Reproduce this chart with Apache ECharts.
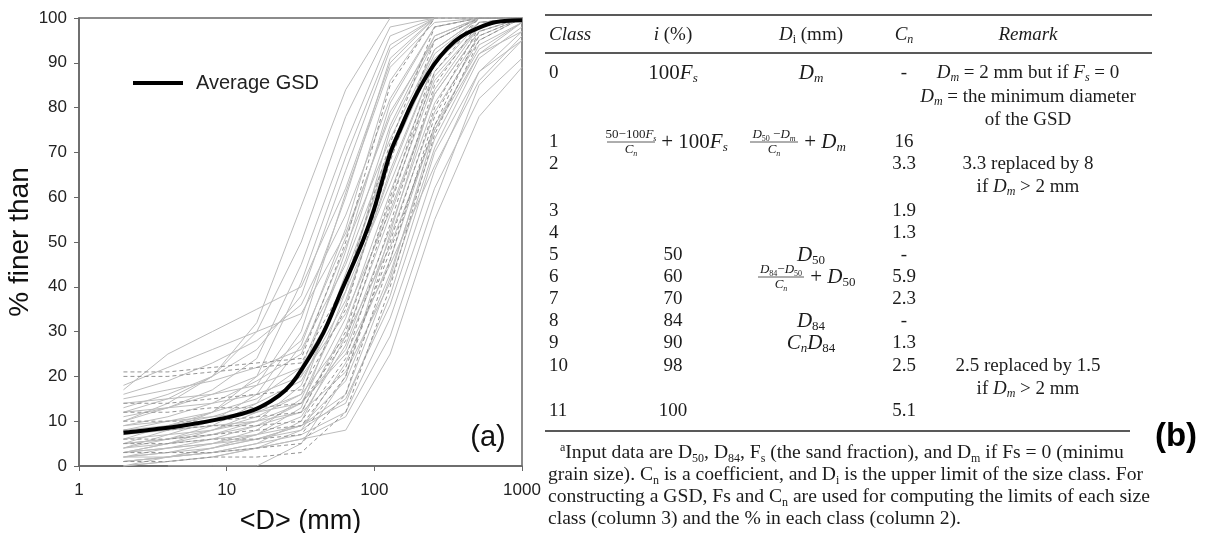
<!DOCTYPE html>
<html>
<head>
<meta charset="utf-8">
<script src="https://cdn.jsdelivr.net/npm/echarts@6/dist/echarts.min.js"></script>
<style>
  html, body { margin: 0; padding: 0; background: #fff; }
  #chart { width: 1208px; height: 533px; }
</style>
</head>
<body>
<div id="chart"></div>
<script>
// ---- panel (a): grain size distributions ----
// sieve diameters (mm) at which each GSD is tabulated
const sieveSizes = [2, 4, 8, 16, 32, 64, 128, 256, 512, 1000];

// % finer than, one row per GSD (solid grey curves)
const grayCurves = [
  [17, 25, 30, 35, 40, 62, 90, 100, 100, 100],
  [12, 15, 20, 32, 58, 84, 100, 100, 100, 100],
  [16, 19, 23, 28, 36, 56, 82, 98, 100, 100],
  [10, 13, 17, 24, 45, 72, 96, 100, 100, 100],
  [6, 9, 12, 18, 33, 60, 91, 100, 100, 100],
  [4, 6, 9, 14, 27, 53, 86, 100, 100, 100],
  [8, 10, 12, 15, 22, 46, 76, 96, 100, 100],
  [3, 5, 7, 10, 18, 41, 71, 93, 100, 100],
  [2, 3, 5, 8, 15, 36, 66, 90, 99, 100],
  [14, 15, 16, 18, 22, 39, 63, 88, 99, 100],
  [5, 6, 7, 9, 12, 31, 59, 86, 98, 100],
  [1, 2, 3, 5, 10, 29, 56, 83, 97, 100],
  [9, 10, 11, 12, 14, 26, 51, 79, 95, 100],
  [0, 1, 2, 4, 8, 23, 46, 76, 93, 99],
  [7, 8, 9, 10, 12, 21, 41, 71, 91, 98],
  [3, 4, 5, 6, 8, 15, 36, 66, 88, 97],
  [2, 2, 3, 4, 6, 11, 29, 59, 85, 95],
  [0, 1, 2, 4, 6, 8, 25, 55, 78, 89],
  [1, 2, 3, 5, 7, 12, 33, 62, 82, 91],
  [11, 13, 16, 20, 28, 51, 79, 95, 100, 100],
  [13, 16, 20, 26, 38, 66, 93, 100, 100, 100],
  [5, 8, 12, 20, 41, 69, 94, 100, 100, 100],
  [4, 7, 10, 16, 30, 61, 89, 99, 100, 100],
  [9, 11, 14, 19, 25, 49, 73, 93, 100, 100],
  [6, 7, 8, 11, 16, 43, 69, 91, 99, 100],
  [2, 4, 6, 9, 14, 33, 61, 87, 98, 100],
  [3, 4, 5, 7, 11, 27, 53, 81, 96, 100],
  [12, 13, 14, 16, 20, 34, 57, 83, 97, 100],
  [8, 9, 10, 12, 16, 29, 49, 75, 94, 99],
  [1, 2, 4, 6, 9, 19, 43, 73, 92, 99],
  [0, 2, 4, 7, 13, 39, 75, 95, 100, 100],
  [5, 6, 8, 10, 14, 25, 45, 67, 86, 96],
  [10, 14, 20, 30, 50, 78, 98, 100, 100, 100],
  [7, 9, 11, 14, 19, 37, 65, 90, 99, 100],
  [3, 5, 8, 12, 20, 48, 81, 98, 100, 100],
  [15, 17, 19, 22, 26, 45, 71, 92, 100, 100],
  [2, 3, 4, 6, 9, 14, 38, 70, 88, 95],
  [4, 5, 6, 7, 9, 16, 42, 75, 92, 97],
  [null, 0, 0, 0, 5, 20, 52, 84, 98, 100],
  [18, 22, 26, 30, 34, 52, 78, 96, 100, 100]
];

// % finer than for the GSDs drawn with dashed grey lines
const dashedCurves = [
  [21, 21, 22, 23, 24, 50, 85, 100, 100, 100],
  [20, 20, 21, 22, 23, 41, 72, 98, 100, 100],
  [14, 14, 15, 16, 17, 35, 68, 95, 100, 100],
  [10, 10, 10, 11, 12, 30, 60, 90, 100, 100],
  [8, 8, 9, 9, 10, 24, 54, 85, 99, 100],
  [5, 5, 6, 6, 7, 20, 50, 80, 98, 100],
  [3, 3, 3, 4, 5, 16, 46, 78, 96, 100],
  [1, 1, 2, 2, 3, 12, 40, 74, 95, 100],
  [12, 12, 13, 13, 14, 28, 58, 88, 100, 100],
  [6, 6, 7, 8, 9, 22, 48, 76, 97, 100]
];

// average GSD
const avgSizes   = [2, 5, 10, 15, 20, 25, 30, 45, 60, 84, 100, 128, 150, 184, 230, 279, 350, 423, 641, 1000];
const avgPercent = [7.4, 9, 10.8, 12.4, 14.5, 16.9, 20, 29.6, 39.2, 50.4, 57.5, 69.8, 75.2, 81.7, 87.5, 91.4, 94.8, 96.6, 99, 99.5];

const xTickValues = [1, 10, 100, 1000];

// ---- panel (b): size-class table ----
const classIds    = ['0', '1', '2', '3', '4', '5', '6', '7', '8', '9', '10', '11'];
const classPct    = ['{r|100}{i|F}{si|s}', '', '', '', '', '50', '60', '70', '84', '90', '98', '100'];
const classDi     = ['{i|D}{si|m}', '', '', '', '', '{i|D}{s|50}', '', '', '{i|D}{s|84}', '{i|C}{si|n}{i|D}{s|84}', '', ''];
const classCn     = ['-', '16', '3.3', '1.9', '1.3', '-', '5.9', '2.3', '-', '1.3', '2.5', '5.1'];
const classRowY   = [73, 142, 164, 211, 233, 255, 277, 299, 321, 343, 366, 411];

const remarkLines = [
  ['{i|D}{si|m}{r| = 2 mm but if }{i|F}{si|s}{r| = 0}', 73],
  ['{i|D}{si|m}{r| = the minimum diameter}', 97],
  ['{r|of the GSD}', 120],
  ['{r|3.3 replaced by 8}', 164],
  ['{r|if }{i|D}{si|m}{r| > 2 mm}', 187],
  ['{r|2.5 replaced by 1.5}', 366],
  ['{r|if }{i|D}{si|m}{r| > 2 mm}', 389]
];

const footnoteLines = [
  '{sup|a}{r|Input data are D}{s|50}{r|, D}{s|84}{r|, F}{s|s}{r| (the sand fraction), and D}{s|m}{r| if Fs = 0 (minimu}',
  '{r|grain size). C}{s|n}{r| is a coefficient, and D}{s|i}{r| is the upper limit of the size class. For}',
  '{r|constructing a GSD, Fs and C}{s|n}{r| are used for computing the limits of each size}',
  '{r|class (column 3) and the % in each class (column 2).}'
];

// ---------------------------------------------------------------
const SANS = '"Liberation Sans", Arial, sans-serif';
const SERIF = '"Liberation Serif", "Times New Roman", serif';
const INK = '#1c1c1c';

function richSet(base) {
  const sub = Math.round(base * 0.63);
  const lh = Math.round(base * 1.16);
  return {
    r:   { fontFamily: SERIF, fontSize: base, lineHeight: lh, fill: INK },
    i:   { fontFamily: SERIF, fontSize: base, fontStyle: 'italic', lineHeight: lh, fill: INK },
    s:   { fontFamily: SERIF, fontSize: sub, lineHeight: sub, verticalAlign: 'bottom', fill: INK },
    si:  { fontFamily: SERIF, fontSize: sub, fontStyle: 'italic', lineHeight: sub, verticalAlign: 'bottom', fill: INK },
    sup: { fontFamily: SERIF, fontSize: sub, lineHeight: sub, verticalAlign: 'top', fill: INK }
  };
}
const RICH = richSet(19);
const RICH_MATH = richSet(21);
const RICH_SMALL = richSet(13);
const RICH_NOTE = richSet(19.6);

function txt(x, y, text, align, rich) {
  return {
    type: 'text', x: x, y: y, silent: true,
    style: {
      text: text, rich: rich || RICH, align: align || 'left', verticalAlign: 'middle',
      fontFamily: SERIF, fontSize: 19, fill: INK
    }
  };
}
function rule(x1, x2, y) {
  return { type: 'line', silent: true, shape: { x1: x1, y1: y, x2: x2, y2: y },
           style: { stroke: '#222', lineWidth: 1.5 } };
}
function fraction(cx, cy, num, den, w) {
  return [
    txt(cx, cy - 7, num, 'center', RICH_SMALL),
    { type: 'line', silent: true, shape: { x1: cx - w / 2, y1: cy, x2: cx + w / 2, y2: cy },
      style: { stroke: '#333', lineWidth: 0.8 } },
    txt(cx, cy + 8, den, 'center', RICH_SMALL)
  ];
}

const COL = { cls: 549, pct: 673, di: 811, cn: 904, remark: 1028 };
const tableEls = [];
tableEls.push(rule(545, 1152, 15), rule(545, 1152, 53), rule(545, 1130, 431));
tableEls.push(txt(COL.cls, 35, '{i|Class}'));
tableEls.push(txt(COL.pct, 35, '{i|i}{r| (%)}', 'center'));
tableEls.push(txt(COL.di, 35, '{i|D}{s|i}{r| (mm)}', 'center'));
tableEls.push(txt(COL.cn, 35, '{i|C}{si|n}', 'center'));
tableEls.push(txt(COL.remark, 35, '{i|Remark}', 'center'));

classIds.forEach(function (id, k) {
  const y = classRowY[k];
  tableEls.push(txt(COL.cls, y, '{r|' + id + '}'));
  if (classPct[k]) {
    const t = classPct[k].indexOf('{') === 0 ? classPct[k] : '{r|' + classPct[k] + '}';
    tableEls.push(txt(COL.pct, y, t, 'center', k === 0 ? RICH_MATH : RICH));
  }
  if (classDi[k]) tableEls.push(txt(COL.di, y, classDi[k], 'center', RICH_MATH));
  tableEls.push(txt(COL.cn, y, '{r|' + classCn[k] + '}', 'center'));
});

// class 1 formulas
Array.prototype.push.apply(tableEls,
  fraction(631, 142, '{r|50\u2212100}{i|F}{si|s}', '{i|C}{si|n}', 48));
tableEls.push(txt(656, 142, '{r| + 100}{i|F}{si|s}', 'left', RICH_MATH));
Array.prototype.push.apply(tableEls,
  fraction(774, 142, '{i|D}{s|50}{r| \u2212}{i|D}{si|m}', '{i|C}{si|n}', 48));
tableEls.push(txt(799, 142, '{r| + }{i|D}{si|m}', 'left', RICH_MATH));
// class 6 formula
Array.prototype.push.apply(tableEls,
  fraction(781, 277, '{i|D}{s|84}{r|\u2212}{i|D}{s|50}', '{i|C}{si|n}', 46));
tableEls.push(txt(805, 277, '{r| + }{i|D}{s|50}', 'left', RICH_MATH));

remarkLines.forEach(function (r) {
  tableEls.push(txt(COL.remark, r[1], r[0], 'center'));
});

footnoteLines.forEach(function (line, k) {
  tableEls.push(txt(k === 0 ? 560 : 548, 453 + k * 22, line, 'left', RICH_NOTE));
});

// ---------------------------------------------------------------
function toPairs(vals) {
  const out = [];
  sieveSizes.forEach(function (d, k) { if (vals[k] != null) out.push([d, vals[k]]); });
  return out;
}

const series = [];
grayCurves.forEach(function (c, k) {
  series.push({
    type: 'line', name: 'gsd' + k, data: toPairs(c), symbol: 'none', silent: true,
    lineStyle: { color: '#bcbcbc', width: 1 }, z: 2
  });
});
dashedCurves.forEach(function (c, k) {
  series.push({
    type: 'line', name: 'gsdd' + k, data: toPairs(c), symbol: 'none', silent: true,
    lineStyle: { color: '#939393', width: 1, type: [4, 3] }, z: 2
  });
});
series.push({
  type: 'line', name: 'Average GSD',
  data: avgSizes.map(function (d, k) { return [d, avgPercent[k]]; }),
  symbol: 'none', smooth: 0.3,
  lineStyle: { color: '#000', width: 4 }, itemStyle: { color: '#000' }, z: 5
});

const chart = echarts.init(document.getElementById('chart'), null, { renderer: 'canvas' });
chart.setOption({
  animation: false,
  backgroundColor: '#fff',
  grid: {
    left: 79, top: 18, width: 443, height: 448, outerBoundsMode: 'none',
    show: true, borderColor: '#666', borderWidth: 1.5, backgroundColor: 'transparent'
  },
  legend: {
    data: ['Average GSD'], left: 133, top: 73, padding: 0,
    icon: 'rect', itemWidth: 50, itemHeight: 4,
    textStyle: { fontFamily: SANS, fontSize: 20, color: '#222', padding: [0, 0, 0, 8] },
    selectedMode: false
  },
  xAxis: {
    type: 'log', logBase: 10, min: 1, max: 1000,
    name: '<D> (mm)', nameLocation: 'middle', nameGap: 42,
    nameTextStyle: { fontFamily: SANS, fontSize: 27, color: '#111' },
    axisLine: { show: true, lineStyle: { color: '#666', width: 1.5 } },
    axisTick: { show: true, length: 5, lineStyle: { color: '#666' } },
    axisLabel: {
      fontFamily: SANS, fontSize: 17, color: '#222', margin: 16,
      formatter: function (v) { return xTickValues.indexOf(Math.round(v)) >= 0 ? String(Math.round(v)) : ''; }
    },
    splitLine: { show: false }, minorTick: { show: false }
  },
  yAxis: {
    type: 'value', min: 0, max: 100, interval: 10,
    name: '% finer than', nameLocation: 'middle', nameGap: 42,
    nameTextStyle: { fontFamily: SANS, fontSize: 28, color: '#111' },
    axisLine: { show: true, lineStyle: { color: '#666', width: 1.5 } },
    axisTick: { show: true, length: 5, lineStyle: { color: '#666' } },
    axisLabel: { fontFamily: SANS, fontSize: 17, color: '#222', margin: 12 },
    splitLine: { show: false }
  },
  series: series,
  graphic: [
    { type: 'text', x: 488, y: 438, silent: true,
      style: { text: '(a)', fontFamily: SANS, fontSize: 29, fill: '#111', align: 'center', verticalAlign: 'middle' } },
    { type: 'text', x: 1176, y: 437, silent: true,
      style: { text: '(b)', fontFamily: SANS, fontSize: 33, fontWeight: 'bold', fill: '#000', align: 'center', verticalAlign: 'middle' } }
  ].concat(tableEls)
});
</script>
</body>
</html>
